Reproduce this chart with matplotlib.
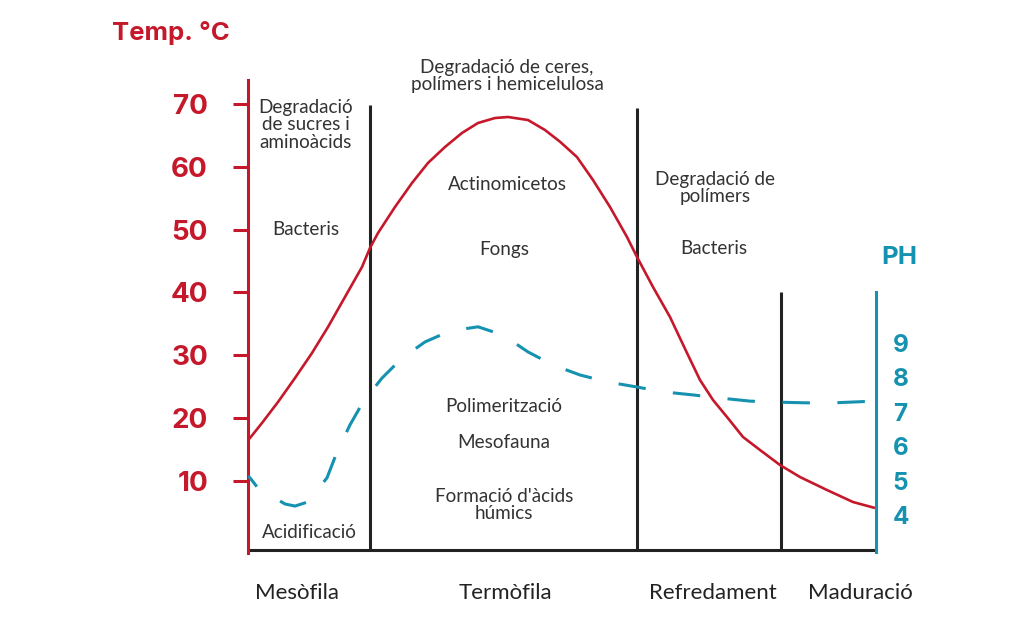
import matplotlib
matplotlib.use("Agg")
import matplotlib.pyplot as plt

# --- data (x = position along the process) ---
temp_x = [0, 2, 14, 30, 47, 64, 80, 97, 114, 122, 130, 147, 164, 180, 197,
          214, 230, 247, 260, 280, 297, 312, 329, 345, 362, 379, 389, 405,
          422, 439, 452, 465, 479, 495, 512, 532, 552, 579, 605, 627]
temp_c = [16.5, 16.84, 19.23, 22.57, 26.39, 30.37, 34.51, 39.29, 44.06,
          47.09, 49.47, 53.61, 57.43, 60.62, 63.16, 65.39, 66.98, 67.77,
          67.93, 67.45, 65.86, 64.0, 61.55, 57.90, 53.61, 48.83, 45.65,
          40.87, 36.10, 30.37, 26.07, 22.89, 20.18, 17.00, 14.93, 12.54,
          10.63, 8.56, 6.65, 5.70]

ph_x = [0, 2, 10, 37, 47, 60, 79, 89, 102, 115, 134, 154, 177, 202, 230,
        255, 280, 305, 332, 359, 389, 415, 445, 472, 502, 529, 559, 585, 627]
ph_val = [5.13, 5.08, 4.78, 4.32, 4.26, 4.38, 5.08, 5.83, 6.62, 7.28, 7.98,
          8.56, 9.03, 9.35, 9.47, 9.23, 8.74, 8.36, 8.07, 7.87, 7.72, 7.58,
          7.49, 7.40, 7.31, 7.28, 7.26, 7.26, 7.31]

phase_bounds = [122, 389, 533]
phase_tops = [69.9, 69.4, 40.0]
phases = ["Mesòfila", "Termòfila", "Refredament", "Maduració"]

temp_ticks = [10, 20, 30, 40, 50, 60, 70]
ph_ticks = [4, 5, 6, 7, 8, 9]

RED = "#c5182b"
TEAL = "#1592b0"
GREY = "#333333"
W, H = 1024, 632

def fx(px):
    return px / W

def fy(py):
    return 1 - py / H

fig = plt.figure(figsize=(W / 100, H / 100), dpi=100)
ax = fig.add_axes([fx(248), fy(553), 628 / W, 473 / H])

ax.plot(temp_x, temp_c, color=RED, lw=1.9, solid_capstyle="butt",
        solid_joinstyle="round")
ax.set_xlim(0, 628)
ax.set_ylim(-1.464, 73.82)

for s in ["top", "right", "bottom"]:
    ax.spines[s].set_visible(False)
ax.spines["left"].set_color(RED)
ax.spines["left"].set_linewidth(2.2)
ax.set_xticks([])
ax.set_yticks(temp_ticks)
ax.tick_params(axis="y", colors=RED, length=10.8, width=2.2, pad=18)
for lab in ax.get_yticklabels():
    lab.set_fontfamily("Inter")
    lab.set_fontweight("bold")
    lab.set_fontsize(20)

# baseline + phase separators
base = -0.99
ax.axhline(base, color="#222222", lw=2.2, zorder=1)
ax.vlines(phase_bounds, base, phase_tops, color="#222222", lw=2.2, zorder=1)

# pH axis
ax2 = ax.twinx()
ax2.set_ylim(2.895, 16.645)
ax2.plot(ph_x, ph_val, color=TEAL, lw=2.2, linestyle=(4.5, (9, 9)),
         dash_capstyle="butt")
for s in ["top", "left", "bottom"]:
    ax2.spines[s].set_visible(False)
ax2.spines["right"].set_color(TEAL)
ax2.spines["right"].set_linewidth(2.2)
ax2.spines["right"].set_bounds(2.924, 10.48)
ax2.set_yticks(ph_ticks)
ax2.tick_params(axis="y", colors=TEAL, length=0, pad=12)
for lab in ax2.get_yticklabels():
    lab.set_fontfamily("Inter")
    lab.set_fontweight("bold")
    lab.set_fontsize(17.5)

# axis titles
fig.text(fx(171), fy(33), "Temp. °C", color=RED, fontsize=18.5, fontweight="bold",
         family="Inter", ha="center", va="center")
fig.text(fx(899), fy(258), "PH", color=TEAL, fontsize=18.5, fontweight="bold",
         family="Inter", ha="center", va="center")

# phase names
for name, cx in zip(phases, [297, 505, 713, 860]):
    fig.text(fx(cx), fy(593), name, color="#222222", fontsize=16, family="Lato",
             ha="center", va="center")

# annotations
notes = [
    ("Degradació\nde sucres i\naminoàcids", 306, 125),
    ("Bacteris", 306, 230),
    ("Degradació de ceres,\npolímers i hemicelulosa", 507, 76),
    ("Actinomicetos", 507, 184),
    ("Fongs", 504, 250),
    ("Degradació de\npolímers", 715, 188),
    ("Bacteris", 714, 248),
    ("Polimerització", 504, 406),
    ("Mesofauna", 504, 442),
    ("Formació d'àcids\nhúmics", 504, 505),
    ("Acidificació", 309, 532),
]
for txt, cx, cy in notes:
    fig.text(fx(cx), fy(cy), txt, color=GREY, fontsize=13.6, family="Lato",
             ha="center", va="center", linespacing=1.02)

fig.savefig("out.png", dpi=100, facecolor="white")
